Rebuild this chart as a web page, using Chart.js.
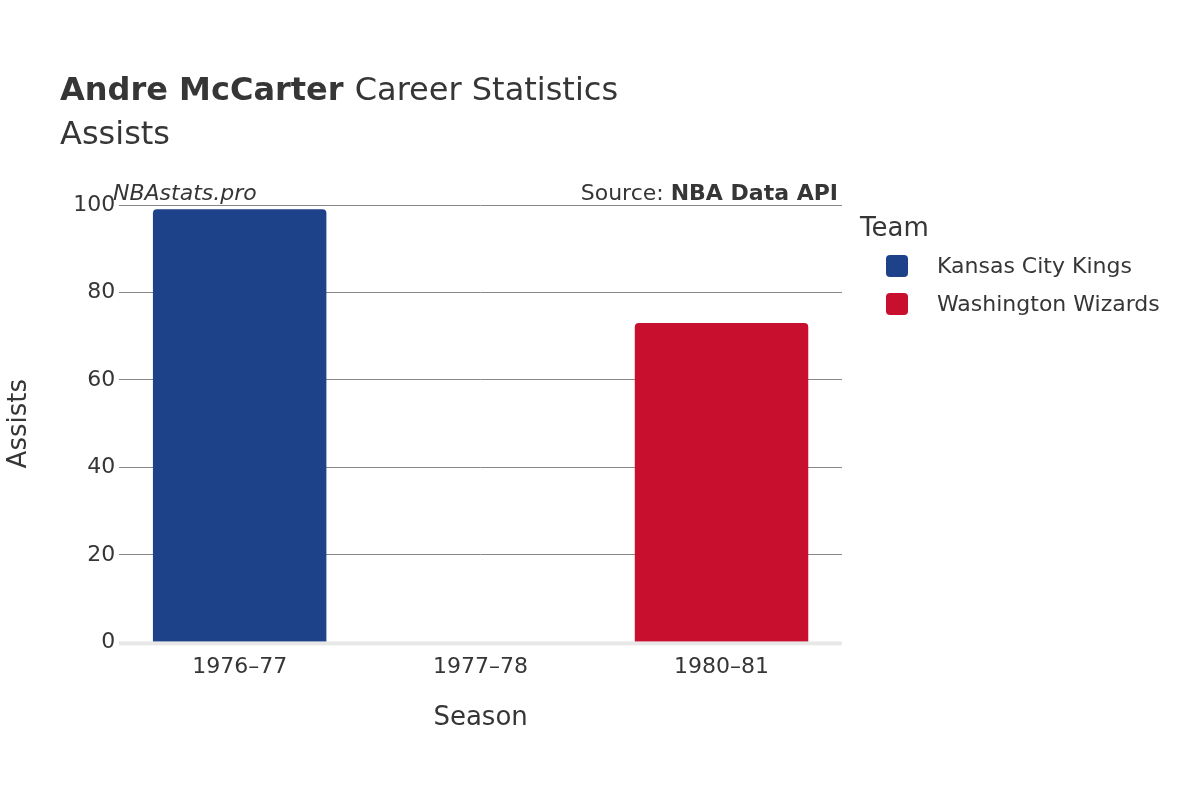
<!DOCTYPE html>
<html><head><meta charset="utf-8">
<script src="https://cdn.jsdelivr.net/npm/chart.js@4/dist/chart.umd.min.js"></script>
<style>html,body{margin:0;background:#fff}#w{width:1200px;height:800px}</style>
</head><body><div id="w"><canvas id="c" width="1200" height="800"></canvas></div>
<script>
const seasons = ["1976\u201377","1977\u201378","1980\u201381"];
const teams = ["Kansas City Kings","Washington Wizards"];
const kingsAssists = [99, 0, null];
const wizardsAssists = [null, null, 73];
const teamColors = ["#1d428a","#c8102e"];
const yTicks = [0,20,40,60,80,100];
const F = "'DejaVu Sans', sans-serif";
const txt = "#363636";

const deco = {
  id:'deco',
  afterDraw(ch){
    const c = ch.ctx, a = ch.chartArea;
    c.save();
    c.fillStyle = txt; c.textBaseline='alphabetic'; c.textAlign='left';
    c.font = "bold 32px "+F; c.fillText("Andre McCarter", 60, 100);
    const w = c.measureText("Andre McCarter ").width;
    c.font = "32px "+F; c.fillText("Career Statistics", 60+w, 100);
    c.fillText("Assists", 60, 144);
    c.font = "italic 22px "+F; c.fillText("NBAstats.pro", 113, 200);
    c.textAlign='right';
    c.font = "bold 22px "+F; c.fillText("NBA Data API", 838, 200);
    const bw = c.measureText("NBA Data API").width;
    c.font = "22px "+F; c.fillText("Source: ", 838-bw, 200);
    // zero line
    const y0 = ch.scales.y.getPixelForValue(0);
    c.fillStyle = "#e8e8e8"; c.fillRect(a.left, y0-1, a.right-a.left, 4);
    // legend
    c.textAlign='left'; c.fillStyle = txt;
    c.font = "26px "+F; c.fillText("Team", 860, 236);
    c.font = "22px "+F;
    teams.forEach((t,i)=>{
      const y = 266 + i*38;
      c.fillStyle = teamColors[i];
      c.beginPath(); c.roundRect(886, y-11, 22, 22, 4); c.fill();
      c.fillStyle = txt; c.textBaseline='middle'; c.fillText(t, 937, y+1);
    });
    c.restore();
  }
};

new Chart(document.getElementById('c'), {
  type:'bar',
  data:{ labels: seasons, datasets:[
    {label:teams[0], data:kingsAssists, backgroundColor:teamColors[0], borderRadius:4, borderSkipped:'bottom'},
    {label:teams[1], data:wizardsAssists, backgroundColor:teamColors[1], borderRadius:4, borderSkipped:'bottom'}
  ]},
  options:{
    responsive:false, animation:false, devicePixelRatio:1,
    layout:{padding:{top:205, right:358, left:0, bottom:62}},
    plugins:{legend:{display:false}, tooltip:{enabled:false}},
    scales:{
      x:{stacked:true, categoryPercentage:1, barPercentage:0.8,
         grid:{display:false}, border:{display:false},
         ticks:{color:txt, font:{family:F,size:22}, padding:4},
         title:{display:true, text:"Season", color:txt, font:{family:F,size:26}, padding:{top:18}}},
      y:{stacked:true, min:0, max:100, afterBuildTicks(s){s.ticks = yTicks.map(v=>({value:v}));},
         grid:{color:"#888", lineWidth:1, drawTicks:false}, border:{display:false},
         ticks:{color:txt, font:{family:F,size:22}, padding:4},
         title:{display:true, text:"Assists", color:txt, font:{family:F,size:26}, padding:{bottom:34}}}
    }
  },
  plugins:[deco]
});
</script></body></html>
